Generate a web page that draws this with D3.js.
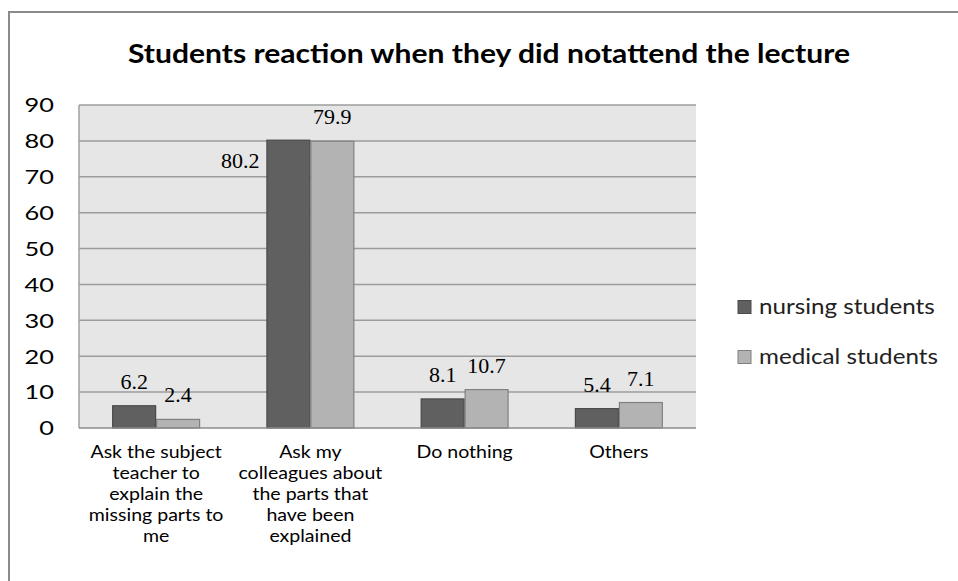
<!DOCTYPE html>
<html>
<head>
<meta charset="utf-8">
<script src="https://cdn.jsdelivr.net/npm/d3@7"></script>
<style>
  html, body { margin: 0; padding: 0; background: #fff; }
  svg { display: block; }
</style>
</head>
<body>
<svg id="chart" width="958" height="581"></svg>
<script>
// Chart data
const categories = [
  ["Ask the subject", "teacher to", "explain the", "missing parts to", "me"],
  ["Ask my", "colleagues about", "the parts that", "have been", "explained"],
  ["Do nothing"],
  ["Others"]
];
const seriesNames = ["nursing students", "medical students"];
const nursing = [6.2, 80.2, 8.1, 5.4];
const medical = [2.4, 79.9, 10.7, 7.1];
const yTicks = [0, 10, 20, 30, 40, 50, 60, 70, 80, 90];
const titleText = "Students reaction when they did  notattend the lecture";

const seriesValues = [nursing, medical];
const fills = ["#606060", "#b3b3b3"];
const strokes = ["#4a4a4a", "#808080"];
const sansFont = "Lato, 'Open Sans', sans-serif";

const svg = d3.select("#chart");

// Outer chart frame (only left and top edges fall inside the view)
svg.append("rect")
  .attr("x", 9).attr("y", 12)
  .attr("width", 1200).attr("height", 1200)
  .attr("fill", "#fff")
  .attr("stroke", "#8a8a8a").attr("stroke-width", 2);

// Title
svg.append("text")
  .attr("x", 489).attr("y", 63)
  .attr("text-anchor", "middle")
  .attr("font-family", sansFont)
  .attr("font-weight", 700)
  .attr("font-size", 27.5)
  .attr("textLength", 722)
  .attr("lengthAdjust", "spacingAndGlyphs")
  .attr("fill", "#000")
  .text(titleText);

// Plot geometry
const plot = { left: 79, right: 696, top: 105, bottom: 428 };

const x0 = d3.scaleBand()
  .domain(d3.range(categories.length))
  .range([plot.left, plot.right])
  .paddingInner(0.43)
  .paddingOuter(0.215);

const x1 = d3.scaleBand()
  .domain(d3.range(seriesNames.length))
  .range([0, x0.bandwidth()])
  .padding(0);

const y = d3.scaleLinear()
  .domain([0, 90])
  .range([plot.bottom, plot.top]);

// Plot background
svg.append("rect")
  .attr("x", plot.left).attr("y", plot.top)
  .attr("width", plot.right - plot.left)
  .attr("height", plot.bottom - plot.top)
  .attr("fill", "#e6e6e6");

// Gridlines
svg.append("g")
  .selectAll("line")
  .data(yTicks.filter(d => d > 0))
  .join("line")
  .attr("x1", plot.left).attr("x2", plot.right)
  .attr("y1", d => y(d)).attr("y2", d => y(d))
  .attr("stroke", "#9c9c9c")
  .attr("stroke-width", 1.5);

// Left edge of plot area
svg.append("line")
  .attr("x1", plot.left).attr("x2", plot.left)
  .attr("y1", plot.top).attr("y2", plot.bottom)
  .attr("stroke", "#a0a0a0").attr("stroke-width", 1.5);

// Y axis labels (slightly widened glyphs)
const yAxis = d3.axisLeft(y).tickValues(yTicks).tickSize(0).tickPadding(0);
const gy = svg.append("g")
  .attr("transform", `translate(54,0)`)
  .call(yAxis);
gy.select(".domain").remove();
gy.selectAll("text")
  .attr("font-family", sansFont)
  .attr("font-size", 19.5)
  .attr("fill", "#000")
  .attr("x", 0)
  .attr("dy", "0.35em")
  .attr("transform", "scale(1.3,1)");

// Bars
const groups = svg.append("g")
  .selectAll("g")
  .data(categories.map((c, i) => i))
  .join("g")
  .attr("transform", i => `translate(${x0(i)},0)`);

groups.selectAll("rect")
  .data(i => seriesValues.map((vals, s) => ({ s, v: vals[i] })))
  .join("rect")
  .attr("x", d => x1(d.s) + 0.5)
  .attr("y", d => y(d.v))
  .attr("width", x1.bandwidth() - 1)
  .attr("height", d => y(0) - y(d.v))
  .attr("fill", d => fills[d.s])
  .attr("stroke", d => strokes[d.s])
  .attr("stroke-width", 1.2);

// Bottom axis line
svg.append("line")
  .attr("x1", plot.left).attr("x2", plot.right)
  .attr("y1", plot.bottom).attr("y2", plot.bottom)
  .attr("stroke", "#8c8c8c").attr("stroke-width", 1.5);

// Value labels; when a group's two values are nearly equal the first
// label is moved beside its bar so the pair stays readable
groups.selectAll("text.val")
  .data(i => seriesValues.map((vals, s) => ({
    s, v: vals[i],
    crowded: Math.abs(seriesValues[0][i] - seriesValues[1][i]) < 1
  })))
  .join("text")
  .attr("class", "val")
  .attr("font-family", "'Liberation Serif', 'DejaVu Serif', serif")
  .attr("font-size", 20)
  .attr("fill", "#000")
  .attr("text-anchor", d => (d.crowded && d.s === 0) ? "end" : "middle")
  .attr("transform", d => {
    const tx = (d.crowded && d.s === 0) ? x1(d.s) - 7 : x1(d.s) + x1.bandwidth() / 2;
    const ty = (d.crowded && d.s === 0) ? y(d.v) + 28 : y(d.v) - 17;
    return `translate(${tx},${ty}) scale(1.1,1)`;
  })
  .text(d => d.v.toFixed(1));

// Category labels
const catLabels = svg.append("g")
  .selectAll("text")
  .data(categories.map((lines, i) => ({ lines, i })))
  .join("text")
  .attr("text-anchor", "middle")
  .attr("font-family", sansFont)
  .attr("font-size", 17)
  .attr("fill", "#000")
  .attr("transform", d => `translate(${x0(d.i) + x0.bandwidth() / 2},458) scale(1.15,1)`);

catLabels.selectAll("tspan")
  .data(d => d.lines)
  .join("tspan")
  .attr("x", 0)
  .attr("y", (d, j) => j * 21)
  .text(d => d);

// Legend
const legend = svg.append("g")
  .selectAll("g")
  .data(seriesNames.map((name, s) => ({ name, s })))
  .join("g")
  .attr("transform", d => `translate(738,${307 + d.s * 50})`);

legend.append("rect")
  .attr("x", 0).attr("y", -6.5)
  .attr("width", 13).attr("height", 13)
  .attr("fill", d => fills[d.s])
  .attr("stroke", d => strokes[d.s])
  .attr("stroke-width", 1);

legend.append("text")
  .attr("transform", "translate(21,0) scale(1.1,1)")
  .attr("dy", "0.33em")
  .attr("font-family", sansFont)
  .attr("font-size", 22)
  .attr("fill", "#222")
  .text(d => d.name);
</script>
</body>
</html>
